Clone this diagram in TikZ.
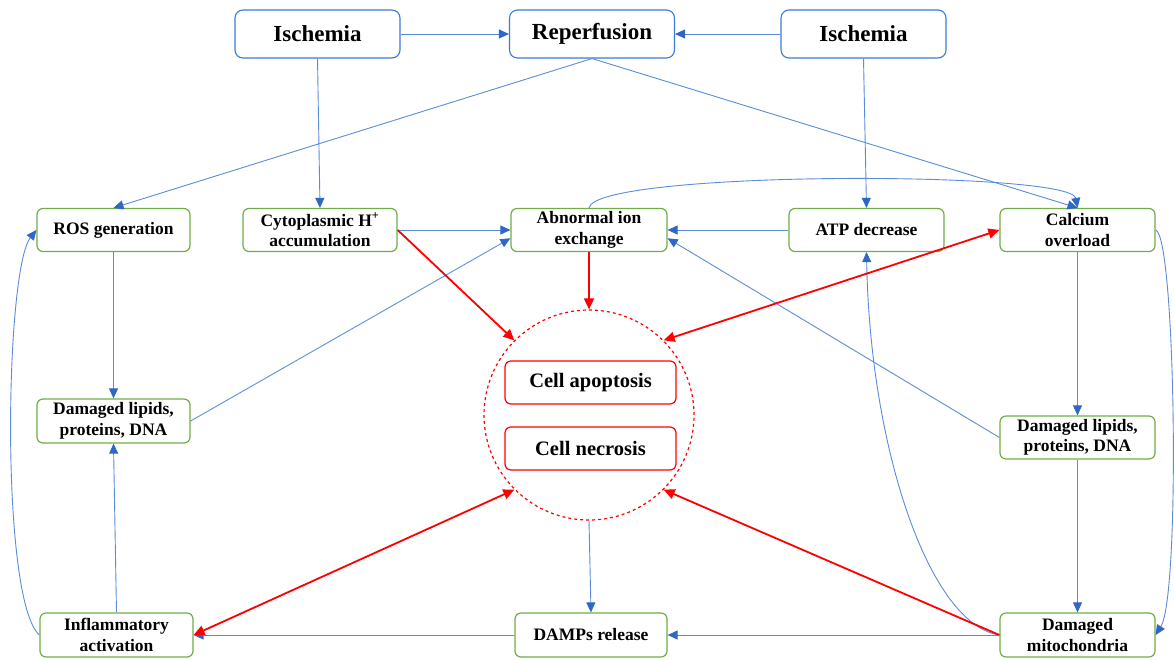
\documentclass[tikz,border=0pt]{standalone}
\usepackage{fontspec}
\setmainfont{Liberation Serif}
\usepackage{tikz}
\usetikzlibrary{arrows.meta}
\usepackage{xcolor}

\definecolor{topblue}{HTML}{3A7BD5}
\definecolor{lineblue}{HTML}{5A8CDA}
\definecolor{tipblue}{HTML}{2E68C6}
\definecolor{boxgreen}{HTML}{70AD47}
\definecolor{cellred}{HTML}{FF0000}

\begin{document}
\begin{tikzpicture}[x=1pt, y=1pt,
		topbox/.style={draw=topblue, line width=1.1pt, rounded corners=8pt, minimum width=165pt, minimum height=48pt, font=\fontsize{23}{26}\selectfont\bfseries},
		greenbox/.style={draw=boxgreen, line width=1.2pt, rounded corners=6pt, minimum width=154pt, minimum height=43pt, inner sep=2pt, align=center, font=\fontsize{17.5}{20.5}\selectfont\bfseries},
		redbox/.style={draw=cellred, line width=1.2pt, rounded corners=6pt, minimum width=171pt, minimum height=43pt, font=\fontsize{20.5}{24}\selectfont\bfseries},
		blueline/.style={lineblue, line width=0.9pt, -{Triangle[length=10pt, width=9pt, color=tipblue]}},
		redline/.style={cellred, line width=1.8pt, -{Triangle[length=11pt, width=10pt]}},
		redboth/.style={cellred, line width=1.8pt, {Triangle[length=11pt, width=10pt]}-{Triangle[length=11pt, width=10pt]}}]
		\useasboundingbox (0,0) rectangle (1174,-659);

		\node[topbox] (isch1) at (317.5,-34) {Ischemia};
		\node[topbox] (reper) at (592,-34) {Reperfusion};
		\node[topbox] (isch2) at (863.5,-34) {Ischemia};

		\node[greenbox, minimum width=153pt] (ros) at (113.5,-230) {ROS generation};
		\node[greenbox] (cyto) at (320,-230) {Cytoplasmic H\textsuperscript{+}\\accumulation};
		\node[greenbox, minimum width=156pt] (abn) at (589,-230) {Abnormal ion\\exchange};
		\node[greenbox, minimum width=155pt] (atp) at (866.5,-230) {ATP decrease};
		\node[greenbox, minimum width=155pt] (calc) at (1077.5,-230) {Calcium\\overload};

		\node[greenbox, minimum width=153pt, minimum height=44pt] (dmgl) at (113.5,-421) {Damaged lipids,\\proteins, DNA};
		\node[greenbox, minimum width=155pt] (dmgr) at (1077.5,-437.5) {Damaged lipids,\\proteins, DNA};

		\node[greenbox, minimum width=153pt, minimum height=44pt] (infl) at (116.5,-635) {Inflammatory\\activation};
		\node[greenbox, minimum width=152pt, minimum height=44pt] (damps) at (591,-635) {DAMPs release};
		\node[greenbox, minimum width=155pt, minimum height=44pt] (mito) at (1077.5,-635) {Damaged\\mitochondria};

		\node[draw=cellred, dashed, line width=1.2pt, circle, minimum size=210pt] (cell) at (589,-415) {};
		\node[redbox] (apop) at (590.5,-382.5) {Cell apoptosis};
		\node[redbox] (necr) at (590.5,-448.5) {Cell necrosis};

		\path [blueline] (isch1) edge (reper);
		\path [blueline] (isch2) edge (reper);
		\path [blueline] (isch1.south) edge (cyto.north);
		\path [blueline] (isch2.south) edge (atp.north);
		\path [blueline] (reper.south) edge (ros.north);
		\path [blueline] (reper.south) edge (calc.north);
		\path [blueline] (abn.north) edge[out=80, in=100, looseness=0.2] (calc.north);

		\path [blueline] (cyto) edge (abn);
		\path [blueline] (atp) edge (abn);
		\path [blueline] (ros) edge (dmgl);
		\path [blueline] (dmgl.east) edge (abn.186);
		\path [blueline] (dmgr.west) edge (abn.354);
		\path [blueline] (calc) edge (dmgr);
		\path [blueline] (dmgr) edge (mito);
		\draw [blueline] (calc.east) .. controls +(20,-5) and +(25,40) .. (mito.east);

		\path [blueline] (mito) edge (damps);
		\path [blueline] (damps) edge (infl);
		\path [blueline] (cell.south) edge (damps.north);
		\path [blueline] (infl.north) edge (dmgl.south);
		\draw [blueline] (infl.west) .. controls (0,-600) and (5,-270) .. (ros.west);
		\draw [blueline] (mito.west) .. controls (930,-625) and (870,-450) .. (atp.south);

		\path [redline] (cyto.east) edge (cell.135);
		\path [redline] (abn.south) edge (cell.north);
		\path [redboth] (calc.west) edge (cell.45);
		\path [redboth] (infl.east) edge (cell.225);
		\path [redline] (mito.west) edge (cell.-45);
\end{tikzpicture}
\end{document}
